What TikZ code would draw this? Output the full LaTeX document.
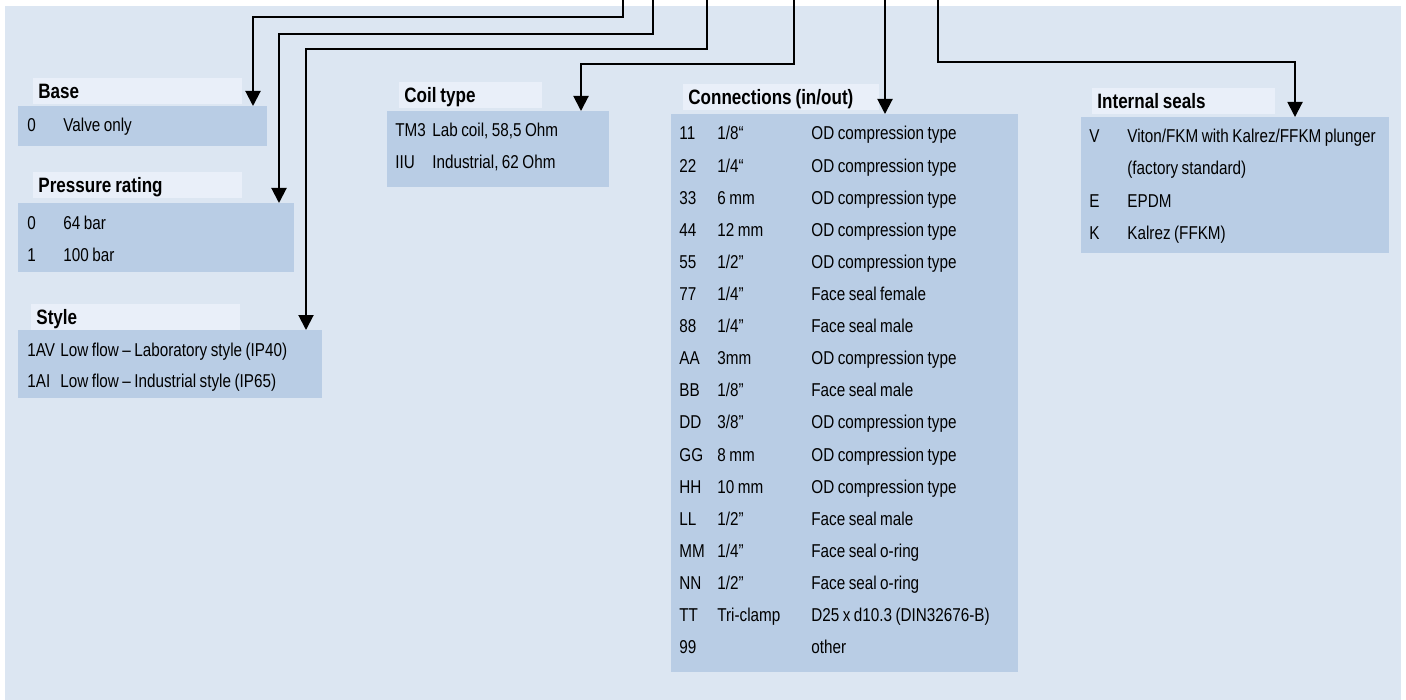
\documentclass[tikz,border=0pt]{standalone}
\usepackage{fontspec}
\setmainfont{Liberation Sans}[FakeStretch=0.82, WordSpace=0.82]
\usetikzlibrary{arrows.meta}

\definecolor{bgblue}{RGB}{220,230,242}
\definecolor{bodyblue}{RGB}{185,205,229}
\definecolor{headblue}{RGB}{233,239,249}

\newcommand{\rowfont}{\fontsize{9.3pt}{11pt}\selectfont}
\newcommand{\headfont}{\fontsize{10.4pt}{12pt}\selectfont\bfseries}

\begin{document}
\begin{tikzpicture}[x=0.5pt, y=-0.5pt,
  body/.style={fill=bodyblue, anchor=north west, inner sep=0pt},
  head/.style={fill=headblue, anchor=north west, inner xsep=2.5pt, inner ysep=0pt,
    minimum height=13pt, text height=7.4pt, text depth=0pt, align=flush left, font=\headfont},
  cell/.style={anchor=base west, inner sep=0pt, font=\rowfont},
  conn/.style={-{Triangle[width=7.5pt, length=7.5pt]}, line width=1pt}]
  \useasboundingbox (0,0) rectangle (1406,700);
  % background panel
  \fill[bgblue] (5,6) rectangle (1401,700);

  % option boxes
  \node[body, minimum width=124.5pt, minimum height=20pt] (base) at (18,106) {};
  \node[body, minimum width=138pt, minimum height=34.5pt] (pres) at (18,203) {};
  \node[body, minimum width=152pt, minimum height=34pt] (style) at (18,330) {};
  \node[body, minimum width=111pt, minimum height=38pt] (coil) at (387,111) {};
  \node[body, minimum width=173.5pt, minimum height=279pt] (conns) at (671,114) {};
  \node[body, minimum width=154pt, minimum height=68pt] (seals) at (1081,117) {};

  % headers
  \node[head, text width=99.5pt] (base-h) at (33,78) {Base};
  \node[head, text width=99.5pt] (pres-h) at (33,172) {Pressure rating};
  \node[head, text width=99.5pt] (style-h) at (31,304) {Style};
  \node[head, text width=66.5pt] (coil-h) at (399,82) {Coil type};
  \node[head, text width=93pt] (conns-h) at (683,84) {Connections (in/out)};
  \node[head, text width=86.5pt] (seals-h) at (1092,88) {Internal seals};

  % rows
  \node[cell] (base-c0) at (27,132) {0};
  \node[cell] (base-t0) at (63,132) {Valve only};

  \foreach \code/\txt [count=\i from 0] in {0/64 bar, 1/100 bar} {
    \node[cell] (pres-c\i) at ({27},{229+32*\i}) {\code};
    \node[cell] (pres-t\i) at ({63},{229+32*\i}) {\txt};
  }

  \foreach \code/\txt [count=\i from 0] in {1AV/Low flow – Laboratory style (IP40),
      1AI/Low flow – Industrial style (IP65)} {
    \node[cell] (style-c\i) at ({27},{356+31*\i}) {\code};
    \node[cell] (style-t\i) at ({60},{356+31*\i}) {\txt};
  }

  \foreach \code/\txt [count=\i from 0] in {TM3/{Lab coil, 58,5 Ohm}, IIU/{Industrial, 62 Ohm}} {
    \node[cell] (coil-c\i) at ({395},{137+32*\i}) {\code};
    \node[cell] (coil-t\i) at ({432},{137+32*\i}) {\txt};
  }

  \foreach \code/\size/\desc [count=\i from 0] in {
      11/{1/8“}/OD compression type,
      22/{1/4“}/OD compression type,
      33/6 mm/OD compression type,
      44/12 mm/OD compression type,
      55/{1/2”}/OD compression type,
      77/{1/4"}/Face seal female,
      88/{1/4"}/Face seal male,
      AA/3mm/OD compression type,
      BB/{1/8”}/Face seal male,
      DD/{3/8”}/OD compression type,
      GG/8 mm/OD compression type,
      HH/10 mm/OD compression type,
      LL/{1/2"}/Face seal male,
      MM/{1/4"}/Face seal o-ring,
      NN/{1/2"}/Face seal o-ring,
      TT/Tri-clamp/D25 x d10.3 (DIN32676-B),
      99/{}/other} {
    \node[cell] (conns-c\i) at ({679},{140+32.1*\i}) {\code};
    \node[cell] (conns-s\i) at ({717},{140+32.1*\i}) {\size};
    \node[cell] (conns-d\i) at ({811},{140+32.1*\i}) {\desc};
  }

  \foreach \code/\txt [count=\i from 0] in {V/{Viton/FKM with Kalrez/FFKM plunger},
      {}/(factory standard), E/EPDM, K/Kalrez (FFKM)} {
    \node[cell] (seals-c\i) at ({1089},{143+32*\i}) {\code};
    \node[cell] (seals-t\i) at ({1127},{143+32*\i}) {\txt};
  }

  % feed lines from the type code
  \coordinate (in1) at (623,0);
  \coordinate (in2) at (653,0);
  \coordinate (in3) at (707,0);
  \coordinate (in4) at (794,0);
  \coordinate (in5) at (885,0);
  \coordinate (in6) at (938,0);

  \draw[conn] (in1) |- (253,17) -- (253,17 |- base.north);
  \draw[conn] (in2) |- (279,34) -- (279,34 |- pres.north);
  \draw[conn] (in3) |- (306,49) -- (306,49 |- style.north);
  \draw[conn] (in4) |- (581,64) -- (581,64 |- coil.north);
  \draw[conn] (in5) -- (in5 |- conns.north);
  \draw[conn] (in6) |- (1295,62) -- (1295,62 |- seals.north);
\end{tikzpicture}
\end{document}
